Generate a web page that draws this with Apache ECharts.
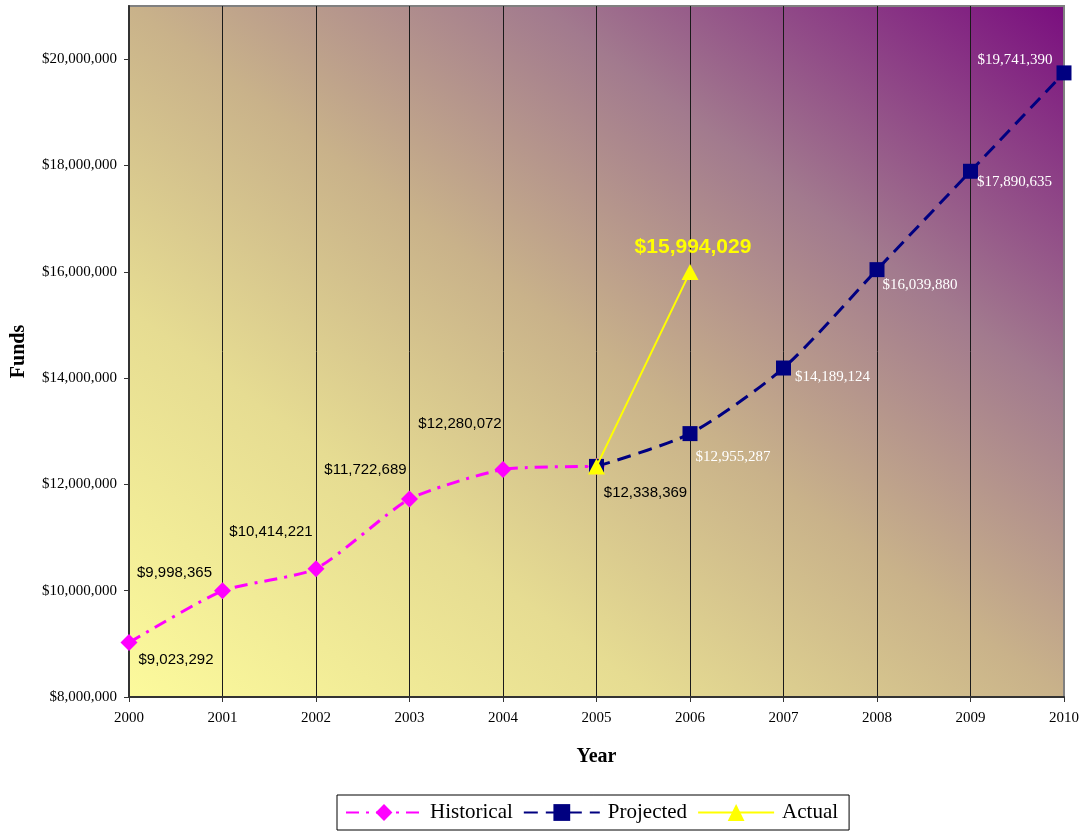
<!DOCTYPE html>
<html>
<head>
<meta charset="utf-8">
<title>Funds by Year</title>
<script src="https://cdn.jsdelivr.net/npm/echarts@6/dist/echarts.min.js"></script>
<style>
  html, body { margin: 0; padding: 0; background: #ffffff; }
  #chart { width: 1086px; height: 831px; }
</style>
</head>
<body>
<div id="chart"></div>
<script>
// Years on the category axis
var years = ['2000', '2001', '2002', '2003', '2004', '2005', '2006', '2007', '2008', '2009', '2010'];

// Recorded funds, 2000-2005
var historical = [9023292, 9998365, 10414221, 11722689, 12280072, 12338369, null, null, null, null, null];

// Projected funds, 2005-2010
var projected = [null, null, null, null, null, 12338369, 12955287, 14189124, 16039880, 17890635, 19741390];

// Actual funds reached in 2006
var actual = [null, null, null, null, null, 12338369, 15994029, null, null, null, null];

// Value-axis ticks
var yTicks = [8000000, 10000000, 12000000, 14000000, 16000000, 18000000, 20000000];

function money(v) {
  return '$' + Math.round(v).toLocaleString('en-US');
}

// Plot-area box (pixels)
var G = { left: 129, top: 6, right: 22, bottom: 134 };
var W = 1086, H = 831;
var x0 = G.left, x1 = W - G.right, y0 = G.top, y1 = H - G.bottom;

// Diagonal wash: yellow at bottom-left to purple at top-right,
// contours running parallel to the top-left / bottom-right diagonal.
var cx = (x0 + x1) / 2, cy = (y0 + y1) / 2;
var pw = x1 - x0, ph = y1 - y0;
var len = Math.sqrt(pw * pw + ph * ph);
var ux = ph / len, uy = -pw / len;
var half = Math.abs((x0 - cx) * ux + (y1 - cy) * uy);
var wash = new echarts.graphic.LinearGradient(
  cx - half * ux, cy - half * uy, cx + half * ux, cy + half * uy,
  [
    { offset: 0, color: '#fcfa9c' },
    { offset: 0.28, color: '#e6dc92' },
    { offset: 0.5, color: '#c9b28a' },
    { offset: 0.72, color: '#a27a8e' },
    { offset: 1, color: '#7a0e7f' }
  ],
  true
);

var SERIF = 'Liberation Serif, Times New Roman, serif';
var SANS = 'Liberation Sans, Arial, sans-serif';

// Label placement around each marker (dx, dy from marker centre)
var histOffsets = [[47, 17], [-48, -18], [-45, -37], [-44, -29], [-43, -46], [49, 26]];
var projOffsets = { 6: [43, 23], 7: [49, 9], 8: [43, 15], 9: [44, 11], 10: [-49, -13] };

function withLabels(values, offsets, style) {
  return values.map(function (v, i) {
    if (v === null) return null;
    var off = offsets[i];
    if (!off) return { value: v, label: { show: false } };
    return {
      value: v,
      label: Object.assign({
        show: true,
        position: 'inside',
        offset: off,
        formatter: function (p) { return money(p.value); }
      }, style)
    };
  });
}

var histData = withLabels(historical, histOffsets, {
  fontFamily: SANS, fontSize: 15, color: '#000000'
});
var projData = withLabels(projected, projOffsets, {
  fontFamily: SERIF, fontSize: 15, color: '#ffffff'
});
var actData = withLabels(actual, { 6: [3, -25] }, {
  fontFamily: SANS, fontSize: 21, fontWeight: 'bold', color: '#ffff00'
});

var chart = echarts.init(document.getElementById('chart'), null, { renderer: 'canvas' });

chart.setOption({
  animation: false,
  backgroundColor: '#ffffff',
  grid: {
    show: true,
    left: G.left, top: G.top, right: G.right, bottom: G.bottom,
    containLabel: false,
    outerBoundsMode: 'none',
    backgroundColor: wash,
    borderColor: '#808080',
    borderWidth: 2
  },
  legend: {
    left: 337,
    top: 795,
    padding: [7, 11, 7, 8],
    itemGap: 10,
    itemWidth: 76,
    itemHeight: 21,
    borderColor: '#000000',
    borderWidth: 1,
    backgroundColor: '#ffffff',
    textStyle: { fontFamily: SERIF, fontSize: 21, color: '#000000', padding: [0, 0, 0, 3] },
    data: ['Historical', 'Projected', 'Actual']
  },
  xAxis: {
    type: 'category',
    data: years,
    boundaryGap: false,
    name: 'Year',
    nameLocation: 'middle',
    nameGap: 50,
    nameTextStyle: { fontFamily: SERIF, fontSize: 20, fontWeight: 'bold', color: '#000000' },
    axisLine: { show: true, lineStyle: { color: '#333333', width: 2 } },
    axisTick: { show: true, alignWithLabel: true, length: 5, inside: false, lineStyle: { color: '#333333', width: 1 } },
    axisLabel: { margin: 14, fontFamily: SERIF, fontSize: 15, color: '#000000' },
    splitLine: { show: true, showMinLine: false, showMaxLine: false, lineStyle: { color: '#1a1a1a', width: 1 } }
  },
  yAxis: {
    type: 'value',
    min: 8000000,
    max: 21000000,
    interval: 2000000,
    name: 'Funds',
    nameLocation: 'middle',
    nameGap: 100,
    nameRotate: 90,
    nameTextStyle: { fontFamily: SERIF, fontSize: 20, fontWeight: 'bold', color: '#000000' },
    axisLine: { show: true, lineStyle: { color: '#333333', width: 2 } },
    axisTick: { show: true, length: 5, inside: false, customValues: yTicks, lineStyle: { color: '#333333', width: 1 } },
    axisLabel: {
      margin: 12,
      customValues: yTicks,
      fontFamily: SERIF,
      fontSize: 15,
      color: '#000000',
      formatter: function (v) { return money(v); }
    },
    splitLine: { show: false }
  },
  series: [
    {
      name: 'Historical',
      type: 'line',
      data: histData,
      smooth: 0.2,
      connectNulls: false,
      symbol: 'diamond',
      symbolSize: 17,
      itemStyle: { color: '#ff00ff' },
      lineStyle: { color: '#ff00ff', width: 3, type: [13, 7, 3, 7] },
      z: 2
    },
    {
      name: 'Projected',
      type: 'line',
      data: projData,
      smooth: 0.25,
      symbol: 'rect',
      symbolSize: 15,
      itemStyle: { color: '#000080' },
      lineStyle: { color: '#000080', width: 3, type: [14, 8] },
      z: 3
    },
    {
      name: 'Actual',
      type: 'line',
      data: actData,
      symbol: 'triangle',
      symbolSize: [17, 16],
      itemStyle: { color: '#ffff00' },
      lineStyle: { color: '#ffff00', width: 2, type: 'solid' },
      z: 4
    }
  ]
});
</script>
</body>
</html>
